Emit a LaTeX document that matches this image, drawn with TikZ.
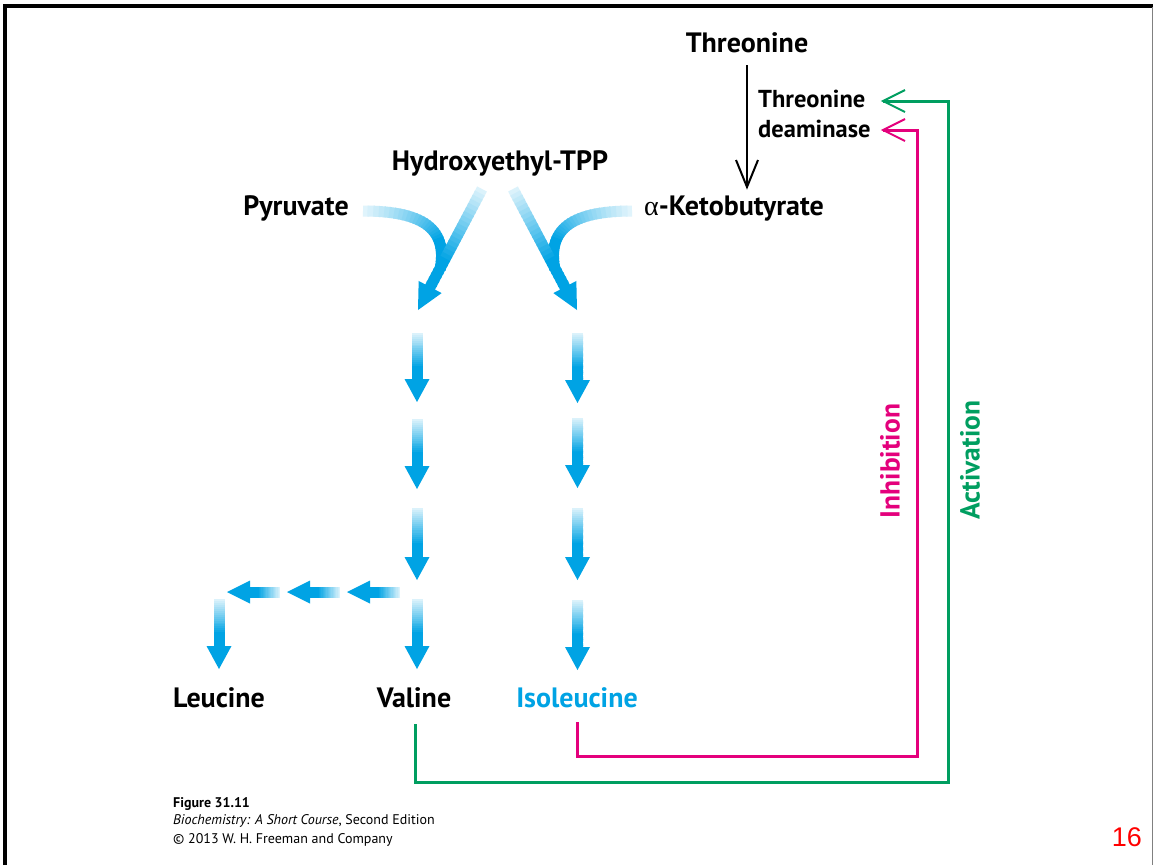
\documentclass[tikz,border=0pt]{standalone}
\usepackage{fontspec}
\setmainfont{PT Sans}
\newfontfamily\arialf{Liberation Sans}
\newfontfamily\greekf{Liberation Serif}
\usetikzlibrary{calc}
\definecolor{ab}{RGB}{0,163,228}
\definecolor{mag}{RGB}{228,0,124}
\definecolor{grn}{RGB}{0,158,96}
% gradient straight arrow: tail x,y ; tip x,y ; head length ; head half width
\newcommand\garrow[6]{%
  \coordinate (gA) at (#1,#2); \coordinate (gT) at (#3,#4);
  \coordinate (gH) at ($(gT)!#5pt!(gA)$);
  \foreach \k in {0,...,23}{%
    \pgfmathsetmacro\gpa{\k/24}\pgfmathsetmacro\gpb{(\k+1.4)/24}%
    \pgfmathsetmacro\gpc{min(100,14+86*\k/17)}%
    \draw[line width=11pt, draw=ab!\gpc!white] ($(gA)!\gpa!(gH)$) -- ($(gA)!\gpb!(gH)$);}
  \fill[ab] (gT) -- ($(gH)!#6pt!90:(gT)$) -- ($(gH)!#6pt!-90:(gT)$) -- cycle;}
% gradient curved shaft: p0 p1 p2 p3 coordinates names
\newcommand\gcurve[4]{%
  \foreach \k in {0,...,30}{%
    \pgfmathsetmacro\gpa{\k/30}%
    \path (#1) .. controls (#2) and (#3) .. (#4) coordinate[pos=\gpa] (cv\k);}
  \foreach \k in {0,...,29}{%
    \pgfmathtruncatemacro\kn{\k+1}%
    \pgfmathsetmacro\gpc{min(100,12+88*\k/21)}%
    \pgfmathsetmacro\gsh{\k>0 ? -1.6 : 0}%
    \draw[line width=11pt, draw=ab!\gpc!white, shorten <=\gsh pt] (cv\k) -- (cv\kn);}}
\tikzset{
  lab/.style={font=\fontsize{28}{32}\selectfont\bfseries, anchor=base, inner sep=0pt},
  labs/.style={font=\fontsize{24.5}{28}\selectfont\bfseries, anchor=base west, inner sep=0pt},
  vlab/.style={font=\fontsize{27.5}{30}\selectfont\bfseries, rotate=90, inner sep=0pt},
  foot/.style={font=\fontsize{14}{17}\selectfont, anchor=base west, inner sep=0pt},
}
\begin{document}
\begin{tikzpicture}[x=1pt,y=-1pt]
\useasboundingbox (0,0) rectangle (1154,865);
\fill[white] (0,0) rectangle (1154,865);
% frame
\draw[line width=4pt] (4.5,865) -- (4.5,5.5) -- (1153,5.5);
\draw[line width=1pt, gray] (1152.5,7) -- (1152.5,865);

% labels
\node[lab] (thr) at (747,52) {Threonine};
\node[labs] (td1) at (758,107) {Threonine};
\node[labs] (td2) at (758,137) {deaminase};
\node[lab] (htpp) at (500,170) {Hydroxyethyl-TPP};
\node[lab] (pyr) at (296,215) {Pyruvate};
\node[lab] (akb) at (734,215) {{\greekf\mdseries α}-Ketobutyrate};
\node[lab] (leu) at (219,707) {Leucine};
\node[lab] (val) at (414,707) {Valine};
\node[lab, text=ab] (ile) at (577,707) {Isoleucine};
\node[vlab, text=mag] (inh) at (890,461) {Inhibition};
\node[vlab, text=grn] (act) at (970,460) {Activation};

% curved arrows
\coordinate (c0) at (363,211); \coordinate (c1) at (425,211);
\coordinate (c2) at (448,230); \coordinate (c3) at (440,270);
\gcurve{c0}{c1}{c2}{c3}
\coordinate (d0) at (632,211); \coordinate (d1) at (570,211);
\coordinate (d2) at (547,230); \coordinate (d3) at (555,270);
\gcurve{d0}{d1}{d2}{d3}
\garrow{482}{189}{418}{310}{26}{13}
\garrow{513}{189}{577}{310}{26}{13}

% valine column
\garrow{417}{333}{417}{402}{23}{12.5}
\garrow{417}{419}{417}{489}{23}{12.5}
\garrow{417}{508}{417}{580}{23}{12.5}
\garrow{417}{599}{417}{669}{23}{12.5}
% isoleucine column
\garrow{577.5}{333}{577.5}{403}{23}{12.5}
\garrow{577.5}{418}{577.5}{488}{23}{12.5}
\garrow{577.5}{508}{577.5}{580}{23}{12.5}
\garrow{577.5}{600}{577.5}{670}{23}{12.5}
% leucine branch
\garrow{400}{592}{347}{592}{23}{11.5}
\garrow{340}{592}{287}{592}{23}{11.5}
\garrow{280}{592}{227}{592}{23}{11.5}
\garrow{219}{599}{219}{669}{23}{12.5}

% threonine -> ketobutyrate
\coordinate (t0) at (747,65); \coordinate (t1) at (747,187);
\draw[line width=2.2pt] (t0) -- (t1);
\draw[line width=2pt] (736,160) -- (t1) -- (758,160);

% inhibition (magenta)
\coordinate (m0) at (577,722); \coordinate (m1) at (883,130);
\draw[line width=3pt, mag] (m0) |- (917,756) |- (m1);
\draw[line width=2pt, mag, line join=miter] (905,119) -- (m1) -- (905,141);
% activation (green)
\coordinate (g0) at (415,724); \coordinate (g1) at (883,101);
\draw[line width=3pt, grn] (g0) |- (948,782) |- (g1);
\draw[line width=2pt, grn, line join=miter] (905,90) -- (g1) -- (905,112);

% footer
\node[foot, font=\fontsize{14}{17}\selectfont\bfseries] (fig) at (173,807) {Figure 31.11};
\node[foot] (bk) at (173,824) {\textit{Biochemistry: A Short Course}, Second Edition};
\node[foot] (cp) at (173,843) {© 2013 W. H. Freeman and Company};
\node[anchor=base east, inner sep=0pt, font=\arialf\fontsize{27}{30}\selectfont, text=red] (pg) at (1142,846) {16};
\end{tikzpicture}
\end{document}
